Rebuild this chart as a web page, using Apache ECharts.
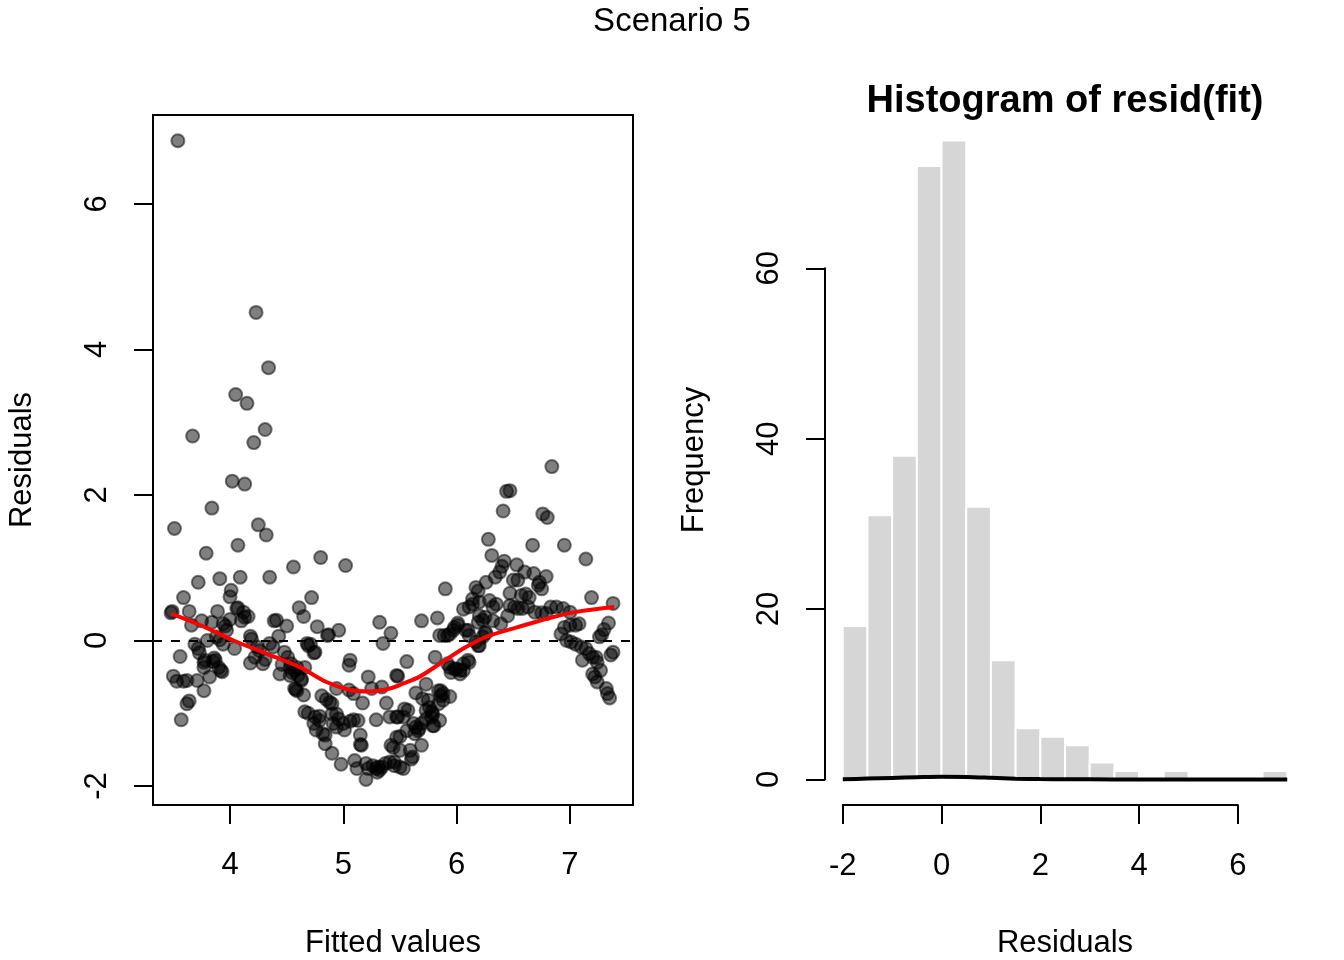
<!DOCTYPE html>
<html>
<head>
<meta charset="utf-8">
<script src="https://cdn.jsdelivr.net/npm/echarts@6/dist/echarts.min.js"></script>
<style>
  html, body { margin: 0; padding: 0; background: #fff; }
  #main { width: 1344px; height: 960px; }
</style>
</head>
<body>
<div id="main"></div>
<script>
// residuals vs fitted values
let residPoints = [
  [3.54,6.87],[4.23,4.51],[4.34,3.75],[4.05,3.38],[4.15,3.26],[4.31,2.90],[3.67,2.81],[4.21,2.72],
  [4.02,2.19],[4.13,2.15],[3.84,1.82],[3.51,1.54],[4.25,1.59],[4.32,1.45],[3.79,1.20],[4.07,1.31],
  [4.80,1.14],[5.02,1.03],[4.56,1.01],[3.72,0.80],[3.91,0.85],[4.09,0.87],[4.35,0.87],[4.01,0.69],
  [4.00,0.60],[3.59,0.59],[4.72,0.59],[3.48,0.38],[3.49,0.40],[3.64,0.40],[3.89,0.40],[4.07,0.45],
  [4.12,0.39],[4.16,0.33],[4.61,0.45],[4.65,0.33],[3.75,0.27],[3.66,0.21],[3.84,0.25],[3.96,0.20],
  [3.97,0.14],[4.00,0.29],[4.39,0.27],[4.41,0.28],[4.50,0.20],[4.77,0.19],[4.87,0.08],[4.96,0.14],
  [4.18,0.06],[4.19,0.02],[4.43,0.06],[3.80,0.00],[3.91,0.01],[3.69,-0.05],[4.04,-0.11],[4.35,-0.04],
  [4.38,-0.09],[4.68,-0.04],[4.71,-0.05],[4.75,-0.16],[4.24,-0.09],[4.26,-0.14],[4.48,-0.16],[4.51,-0.23],
  [3.56,-0.22],[3.73,-0.17],[3.86,-0.24],[3.85,-0.29],[3.77,-0.30],[3.77,-0.37],[4.18,-0.31],[4.29,-0.32],
  [4.31,-0.26],[5.06,-0.27],[5.05,-0.34],[4.46,-0.33],[4.53,-0.37],[4.59,-0.37],[4.66,-0.37],[3.92,-0.41],
  [3.90,-0.37],[3.82,-0.50],[4.55,-0.44],[4.63,-0.53],[3.50,-0.49],[3.53,-0.56],[3.59,-0.56],[3.62,-0.55],
  [3.71,-0.55],[3.77,-0.69],[4.58,-0.67],[4.94,-0.66],[5.05,-0.68],[5.22,-0.50],[5.32,0.25],[5.42,0.10],
  [5.35,-0.04],[5.47,-0.48],[3.62,-0.87],[3.64,-0.83],[3.57,-1.09],[4.81,-0.76],[4.88,-0.85],[4.85,-0.81],
  [4.69,-1.00],[4.79,-1.04],[4.74,-1.14],[4.76,-1.23],[4.82,-1.28],[4.84,-1.42],[4.90,-1.55],[4.90,-1.01],
  [4.94,-1.01],[4.96,-1.08],[4.91,-1.14],[5.00,-1.14],[5.06,-1.11],[5.09,-1.09],[5.13,-1.10],[5.01,-1.23],
  [4.98,-1.70],[5.15,-1.30],[5.16,-1.44],[5.15,-1.43],[5.10,-1.65],[5.12,-1.76],[5.20,-1.91],[5.22,-1.76],
  [5.26,-1.72],[5.29,-1.76],[5.34,-1.74],[5.32,-1.78],[5.38,-0.86],[5.41,-1.05],[5.42,-1.44],[5.45,-1.67],
  [5.47,-1.33],[5.48,-1.05],[5.50,-1.74],
  [6.84,2.39],[6.44,2.05],[6.47,2.06],[6.41,1.78],[6.76,1.74],[6.80,1.69],[6.28,1.39],[6.67,1.31],
  [6.95,1.31],[7.14,1.12],[6.31,1.17],[6.42,1.09],[6.40,1.02],[6.38,0.94],[6.34,0.87],[6.26,0.80],
  [6.17,0.73],[6.19,0.68],[6.53,1.04],[6.60,0.94],[6.68,0.92],[6.79,0.88],[6.50,0.83],[6.54,0.83],
  [6.73,0.80],[6.75,0.71],[6.72,0.76],[5.90,0.71],[6.47,0.65],[6.57,0.62],[6.61,0.64],[6.64,0.59],
  [6.14,0.57],[6.14,0.50],[6.11,0.46],[6.20,0.53],[6.29,0.55],[6.35,0.50],[6.32,0.46],[6.06,0.43],
  [6.47,0.48],[6.51,0.46],[6.54,0.44],[6.58,0.44],[6.63,0.46],[6.69,0.39],[6.75,0.38],[6.79,0.37],
  [6.83,0.46],[6.88,0.46],[6.94,0.44],[7.00,0.39],[6.20,0.34],[6.25,0.32],[6.19,0.25],[6.23,0.28],
  [6.32,0.27],[6.39,0.23],[6.45,0.34],[5.69,0.27],[5.83,0.31],[6.01,0.24],[5.98,0.18],[5.94,0.09],
  [5.89,0.07],[5.85,0.07],[6.10,0.14],[6.11,0.07],[6.26,0.10],[6.20,-0.07],[6.17,-0.02],[7.08,0.23],
  [7.05,0.21],[7.00,0.21],[6.95,0.18],[7.19,0.59],[7.38,0.51],[7.34,0.24],[7.30,0.15],[7.28,0.08],
  [7.26,0.05],[6.92,0.09],[6.97,0.00],[7.01,-0.02],[7.05,-0.05],[7.10,-0.09],[7.14,-0.11],[7.17,-0.18],
  [7.20,-0.23],[7.38,-0.16],[7.36,-0.20],[7.11,-0.27],[7.23,-0.23],[7.24,-0.30],[7.27,-0.41],[7.20,-0.46],
  [7.22,-0.50],[7.24,-0.57],[7.32,-0.66],[7.33,-0.73],[7.35,-0.79],[6.10,-0.27],[6.06,-0.32],[6.03,-0.41],
  [6.00,-0.39],[5.94,-0.37],[5.95,-0.44],[6.03,-0.46],[5.81,-0.23],[5.56,-0.29],[5.48,-0.49],[5.73,-0.60],
  [5.64,-0.72],[5.70,-0.80],[5.86,-0.69],[5.94,-0.77],[5.88,-0.82],[5.76,-0.92],[5.79,-1.01],[5.78,-1.05],
  [5.73,-1.08],[5.69,-1.14],[5.79,-1.17],[5.54,-0.94],[5.57,-0.96],[5.47,-1.05],[5.53,-1.05],[5.62,-1.14],
  [5.64,-1.19],[5.67,-1.21],[5.63,-1.28],[5.69,-1.44],[5.50,-1.32],[5.44,-1.47],[5.50,-1.51],[5.59,-1.51],
  [5.60,-1.63],[5.53,-1.76],[5.45,-1.72],[5.41,-1.67],
  [3.94,0.23],[4.10,0.27],[4.13,0.32],[4.06,0.44],[3.88,0.05],[3.94,-0.05],[3.72,-0.11],[3.78,-0.27],
  [3.87,-0.27],[3.93,-0.43],[4.44,-0.46],[4.53,-0.48],[4.57,-0.41],[4.54,-0.32],[4.57,-0.66],[4.65,-0.75],
  [4.66,-0.98],[4.22,-0.23],[4.60,-0.48],[4.63,-0.55],[4.59,-0.69],[4.86,0.07],[4.69,-0.07],[4.74,-0.17],
  [5.25,-0.66],[5.34,-0.64],[5.09,-0.73],[5.17,-0.86],[5.29,-1.09],[4.90,-0.87],[4.75,-1.05],[4.79,-1.10],
  [4.84,-1.30],[4.94,-1.19],[5.20,-1.69],[5.31,-1.74],[5.30,-1.81],[5.37,-1.69],[5.56,-1.24],[5.61,-1.60],
  [5.66,-1.24],[5.73,-0.96],[5.75,-0.82],[5.78,-0.98],[5.84,-0.87],[5.86,-0.76],[5.80,-1.17],[5.85,-1.10],
  [5.92,0.07],[5.97,0.14],[6.01,0.21],[6.08,0.14],[6.19,-0.07],[6.23,0.05],[6.25,0.11],[5.92,-0.32],
  [5.98,-0.39],[6.06,-0.41],[6.11,-0.30],[5.88,-0.73],[5.84,-0.69]
]

// red smoother through the residuals
let smoothX = [3.48, 3.74, 4.03, 4.32, 4.62, 4.85, 5.06, 5.23, 5.41, 5.53, 5.67, 5.85, 6.07, 6.26, 6.53, 6.82, 7.08, 7.39]
let smoothY = [0.37, 0.21, 0.00, -0.18, -0.37, -0.57, -0.68, -0.70, -0.66, -0.59, -0.50, -0.32, -0.10, 0.05, 0.18, 0.31, 0.40, 0.46]

// histogram of the residuals
let breaks = [-2, -1.5, -1, -0.5, 0, 0.5, 1, 1.5, 2, 2.5, 3, 3.5, 4, 4.5, 5, 5.5, 6, 6.5, 7]
let counts = [18, 31, 38, 72, 75, 32, 14, 6, 5, 4, 2, 1, 0, 1, 0, 0, 0, 1]

// black density line drawn on top of the bars
let densX = [-2, -1.5, -1, -0.5, 0, 0.5, 1, 1.5, 2, 2.5, 3, 4, 5, 6, 7]
let densY = [0.02, 0.1, 0.18, 0.26, 0.32, 0.3, 0.2, 0.09, 0.04, 0.02, 0.01, 0.0, 0.0, 0.0, 0.0]

let leftTicksX = [4, 5, 6, 7]
let leftTicksY = [-2, 0, 2, 4, 6]

const FONT = '"Liberation Sans", Arial, Helvetica, sans-serif'

// plot regions (px) and the limits R used for them
const histBox = {left: 825, right: 1305, top: 115, bottom: 805}
const histXMin = -2.36, histXMax = 7.36, histYMin = -3, histYMax = 78
const hx = v => histBox.left + (v - histXMin) / (histXMax - histXMin) * (histBox.right - histBox.left)
const hy = v => histBox.bottom - (v - histYMin) / (histYMax - histYMin) * (histBox.bottom - histBox.top)

const tickStyle = {show: true, inside: false, length: 19, lineStyle: {color: '#000', width: 2}}
const labelStyle = {color: '#000', fontSize: 31, fontFamily: FONT}
const nameStyle = {color: '#000', fontSize: 31, fontFamily: FONT}

let myChart = echarts.init(document.getElementById('main'))

myChart.setOption({
    animation: false,
    backgroundColor: '#fff',
    title: [
        {
            text: 'Scenario 5', left: 'center', top: 5, padding: 0,
            textStyle: {fontSize: 33, fontWeight: 'normal', color: '#000', fontFamily: FONT}
        },
        {
            text: 'Histogram of resid(fit)', left: 1065, textAlign: 'center', top: 83, padding: 0,
            textStyle: {fontSize: 38, fontWeight: 'bold', color: '#000', fontFamily: FONT}
        }
    ],
    grid: [
        {left: 153, top: 115, width: 480, height: 690, outerBoundsMode: 'none',
         show: true, borderColor: '#000', borderWidth: 2, backgroundColor: 'transparent'},
        {left: histBox.left, top: histBox.top, width: 480, height: 690, outerBoundsMode: 'none'},
        // axis-only grids: R draws the histogram axes only over the tick range
        {left: hx(-2), width: hx(6) - hx(-2), top: histBox.top, height: 690, outerBoundsMode: 'none'},
        {left: histBox.left, width: 480, top: hy(60), height: hy(0) - hy(60), outerBoundsMode: 'none'}
    ],
    xAxis: [
        {
            gridIndex: 0, type: 'value', min: 3.3206, max: 7.556,
            axisLine: {show: false, onZero: false}, splitLine: {show: false},
            axisTick: Object.assign({customValues: leftTicksX}, tickStyle),
            axisLabel: Object.assign({customValues: leftTicksX, margin: 45}, labelStyle),
            name: 'Fitted values', nameLocation: 'middle', nameGap: 123, nameTextStyle: nameStyle
        },
        {
            gridIndex: 1, type: 'value', min: histXMin, max: histXMax,
            axisLine: {show: false, onZero: false}, axisTick: {show: false}, axisLabel: {show: false}, splitLine: {show: false},
            name: 'Residuals', nameLocation: 'middle', nameGap: 123, nameTextStyle: nameStyle
        },
        {
            gridIndex: 2, type: 'value', min: -2, max: 6, interval: 2,
            axisLine: {show: true, onZero: false, lineStyle: {color: '#000', width: 2}},
            axisTick: tickStyle, splitLine: {show: false},
            axisLabel: Object.assign({margin: 46}, labelStyle)
        },
        {gridIndex: 3, type: 'value', show: false}
    ],
    yAxis: [
        {
            gridIndex: 0, type: 'value', min: -2.261, max: 7.223,
            axisLine: {show: false, onZero: false}, splitLine: {show: false},
            axisTick: Object.assign({customValues: leftTicksY}, tickStyle),
            axisLabel: Object.assign({customValues: leftTicksY, rotate: 90, margin: 40}, labelStyle),
            name: 'Residuals', nameLocation: 'middle', nameRotate: 90, nameGap: 115, nameTextStyle: nameStyle
        },
        {
            gridIndex: 1, type: 'value', min: histYMin, max: histYMax,
            axisLine: {show: false, onZero: false}, axisTick: {show: false}, axisLabel: {show: false}, splitLine: {show: false},
            name: 'Frequency', nameLocation: 'middle', nameRotate: 90, nameGap: 115, nameTextStyle: nameStyle
        },
        {gridIndex: 2, type: 'value', show: false},
        {
            gridIndex: 3, type: 'value', min: 0, max: 60, interval: 20,
            axisLine: {show: true, onZero: false, lineStyle: {color: '#000', width: 2}},
            axisTick: tickStyle, splitLine: {show: false},
            axisLabel: Object.assign({rotate: 90, margin: 40}, labelStyle)
        }
    ],
    series: [
        {
            type: 'scatter', xAxisIndex: 0, yAxisIndex: 0,
            data: residPoints,
            symbolSize: 13,
            itemStyle: {color: 'rgba(0,0,0,0.5)', borderColor: 'rgba(0,0,0,0.5)', borderWidth: 2, opacity: 1},
            markLine: {
                silent: true, symbol: ['none', 'none'], label: {show: false},
                lineStyle: {color: '#000', width: 2, type: [9, 9]},
                data: [{yAxis: 0}]
            }
        },
        {
            type: 'line', xAxisIndex: 0, yAxisIndex: 0,
            data: smoothX.map((x, i) => [x, smoothY[i]]),
            smooth: 0.3, showSymbol: false, z: 5,
            lineStyle: {color: '#ff0000', width: 4}
        },
        {
            type: 'custom', xAxisIndex: 1, yAxisIndex: 1,
            data: counts.map((c, i) => [breaks[i], breaks[i + 1], c]),
            renderItem: (params, api) => {
                let top = api.coord([api.value(0), api.value(2)])
                let base = api.coord([api.value(1), 0])
                return {
                    type: 'rect',
                    shape: {x: top[0], y: top[1], width: base[0] - top[0], height: base[1] - top[1]},
                    style: {fill: '#d6d6d6', stroke: '#fff', lineWidth: 2}
                }
            }
        },
        {
            type: 'line', xAxisIndex: 1, yAxisIndex: 1,
            data: densX.map((x, i) => [x, densY[i]]),
            smooth: 0.3, showSymbol: false, z: 5,
            lineStyle: {color: '#000', width: 4}
        }
    ]
})
</script>
</body>
</html>
